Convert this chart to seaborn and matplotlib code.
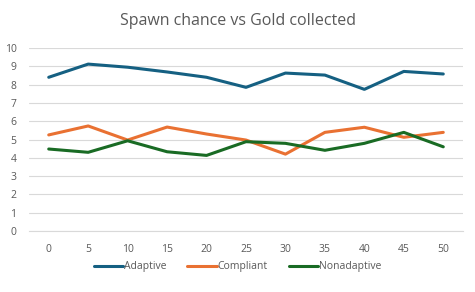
import matplotlib
matplotlib.use('Agg')

import pandas as pd
import matplotlib.pyplot as plt
import seaborn as sns

# datos
spawn_chance = [0, 5, 10, 15, 20, 25, 30, 35, 40, 45, 50]
adaptive = [8.40, 9.12, 8.95, 8.69, 8.40, 7.85, 8.63, 8.52, 7.74, 8.72, 8.58]
compliant = [5.25, 5.74, 4.97, 5.68, 5.30, 4.97, 4.20, 5.39, 5.67, 5.12, 5.39]
nonadaptive = [4.48, 4.30, 4.93, 4.33, 4.13, 4.88, 4.79, 4.41, 4.79, 5.39, 4.60]
series_names = ["Adaptive", "Compliant", "Nonadaptive"]
colores = ["#156082", "#E97132", "#196B24"]

df = pd.concat([
    pd.DataFrame({"spawn": spawn_chance, "gold": vals, "serie": name})
    for name, vals in zip(series_names, [adaptive, compliant, nonadaptive])
])

sns.set_theme(style="white")
plt.rcParams['font.family'] = ['Open Sans', 'DejaVu Sans']

fig = plt.figure(figsize=(4.75, 2.92), dpi=100)
ax = fig.add_axes([29 / 475, 1 - 231 / 292, (463 - 29) / 475, (231 - 48) / 292])

sns.lineplot(data=df, x="spawn", y="gold", hue="serie", palette=colores,
             linewidth=2.2, ax=ax, legend=False)

ax.set_xlim(-2.5, 52.5)
ax.set_ylim(0, 10)
ax.set_xticks(spawn_chance)
ax.set_yticks(range(0, 11))
ax.yaxis.grid(True, color="#D9D9D9", linewidth=0.8)
ax.set_axisbelow(True)
for s in ["top", "right", "left"]:
    ax.spines[s].set_visible(False)
ax.spines["bottom"].set_color("#D9D9D9")
ax.spines["bottom"].set_linewidth(0.8)
ax.tick_params(axis="both", length=0, labelsize=7.5, colors="#595959")
ax.tick_params(axis="x", pad=9)
ax.tick_params(axis="y", pad=9)
ax.set_xlabel("")
ax.set_ylabel("")

fig.text(0.5, 1 - 21 / 292, "Spawn chance vs Gold collected", ha="center", va="center",
         fontsize=11.5, color="#595959")

handles = [plt.Line2D([], [], color=c, linewidth=2.2) for c in colores]
fig.legend(handles, series_names, loc="center", bbox_to_anchor=(0.5, 1 - 267 / 292),
           ncol=3, frameon=False, fontsize=7.5, labelcolor="#595959",
           handlelength=2.8, handletextpad=0.1, columnspacing=2.0)

plt.savefig("out.png", dpi=100)
plt.close()
